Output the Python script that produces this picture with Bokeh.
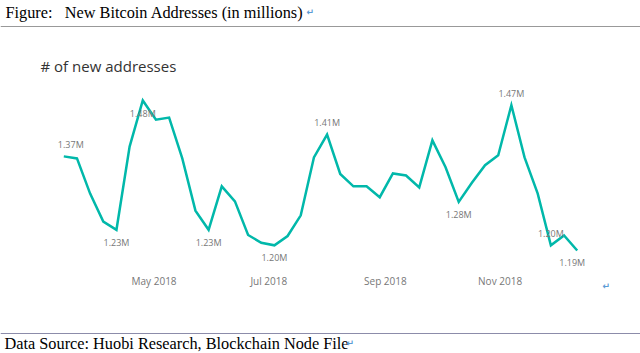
import pandas as pd
from bokeh.plotting import figure
from bokeh.models import Range1d, Label, Span, DatetimeAxis, FixedTicker, ColumnDataSource
from bokeh.core.properties import value
from bokeh.embed import file_html
from bokeh.resources import INLINE

# ---------------- data ----------------
start_date = "2018-03-14"
n_weeks = 40
new_addresses = [
    1.372, 1.368, 1.300, 1.246, 1.230, 1.391, 1.480, 1.443, 1.447, 1.368,
    1.267, 1.230, 1.314, 1.285, 1.220, 1.205, 1.200, 1.218, 1.258, 1.370,
    1.414, 1.338, 1.314, 1.314, 1.293, 1.339, 1.335, 1.312, 1.403, 1.351,
    1.284, 1.321, 1.355, 1.374, 1.471, 1.370, 1.300, 1.200, 1.219, 1.190,
]
label_idx = [0, 4, 6, 11, 16, 20, 30, 34, 37, 39]
label_side = ["above", "below", "below", "below", "below", "above", "below", "above", "above", "below"]
label_dx = [7, 0, 0, 0, 0, 0, 0, 0, 0, -5]
tick_dates = ["2018-05-01", "2018-07-01", "2018-09-01", "2018-11-01"]
tick_labels = ["May 2018", "Jul 2018", "Sep 2018", "Nov 2018"]

doc_title = "Figure:\u00a0\u00a0\u00a0New Bitcoin Addresses (in millions)"
chart_title = "# of new addresses"
doc_source = "Data Source: Huobi Research, Blockchain Node File"

# ---------------- layout constants ----------------
W, H = 640, 353
dates = pd.date_range(start_date, periods=n_weeks, freq="7D")
px_per_day = 1.8806
x0_px = 63.3
x_start = dates[0] - pd.Timedelta(days=x0_px / px_per_day)
x_end = dates[0] + pd.Timedelta(days=(W - x0_px) / px_per_day)
px_per_unit = 517.24
ref_val, ref_px = 1.48, 100.0
y_top = ref_val + ref_px / px_per_unit
y_bot = ref_val - (H - ref_px) / px_per_unit

def yval(px):
    return ref_val - (px - ref_px) / px_per_unit

p = figure(width=W, height=H, output_backend="svg", toolbar_location=None,
           x_axis_type=None, y_axis_type=None,
           x_range=Range1d(x_start, x_end), y_range=Range1d(y_bot, y_top),
           min_border=0, outline_line_color=None)
p.grid.visible = False
p.background_fill_color = "white"
p.border_fill_color = "white"

# x axis (fixed inside the frame)
ms = [pd.Timestamp(d).value // 10**6 for d in tick_dates]
xaxis = DatetimeAxis(ticker=FixedTicker(ticks=ms), fixed_location=yval(273))
xaxis.major_label_overrides = {m: l for m, l in zip(ms, tick_labels)}
xaxis.axis_line_color = None
xaxis.major_tick_line_color = None
xaxis.minor_tick_line_color = None
xaxis.major_tick_out = 0
xaxis.major_tick_in = 0
xaxis.minor_tick_out = 0
xaxis.major_label_standoff = 0
xaxis.major_label_text_font = "Open Sans"
xaxis.major_label_text_font_size = "10px"
xaxis.major_label_text_color = "#777777"
p.add_layout(xaxis, "below")

# line
src = ColumnDataSource(dict(x=dates, y=new_addresses))
p.line("x", "y", source=src, line_color="#01B8AA", line_width=2.5, line_join="miter")

# data labels
lab = dict(x=[dates[i] for i in label_idx],
           y=[new_addresses[i] for i in label_idx],
           t=["%.2fM" % new_addresses[i] for i in label_idx],
           dx=label_dx,
           dy=[-12 if s == "above" else 12.5 for s in label_side])
p.text("x", "y", text="t", x_offset="dx", y_offset="dy", source=ColumnDataSource(lab),
       text_font=value("Open Sans"), text_font_size="9px", text_color="#777777",
       text_align="center", text_baseline="middle")

# chart title
p.add_layout(Label(x=40, y=H - 65, x_units="screen", y_units="screen", text=chart_title,
                   text_font="Open Sans", text_font_size="15px", text_color="#333333",
                   text_baseline="middle"))

# document header / footer
p.add_layout(Label(x=5, y=H - 12, x_units="screen", y_units="screen", text=doc_title,
                   text_font="Liberation Serif", text_font_size="16.3px", text_color="#000000",
                   text_baseline="middle"))
p.add_layout(Span(location=H - 26, location_units="screen", dimension="width",
                  line_color="#999999", line_width=1))
p.add_layout(Span(location=H - 333, location_units="screen", dimension="width",
                  line_color="#8c8caa", line_width=1))
p.add_layout(Label(x=4, y=H - 343, x_units="screen", y_units="screen", text=doc_source,
                   text_font="Liberation Serif", text_font_size="16.3px", text_color="#000000",
                   text_baseline="middle"))
for ax, ay in [(306, 11), (346, 342), (602, 285)]:
    p.add_layout(Label(x=ax, y=H - ay, x_units="screen", y_units="screen", text="\u21b5",
                       text_font="DejaVu Sans", text_font_size="9px", text_color="#5b9bd5",
                       text_baseline="middle", text_font_style="bold"))

open("out.html", "w").write(file_html(p, INLINE))
